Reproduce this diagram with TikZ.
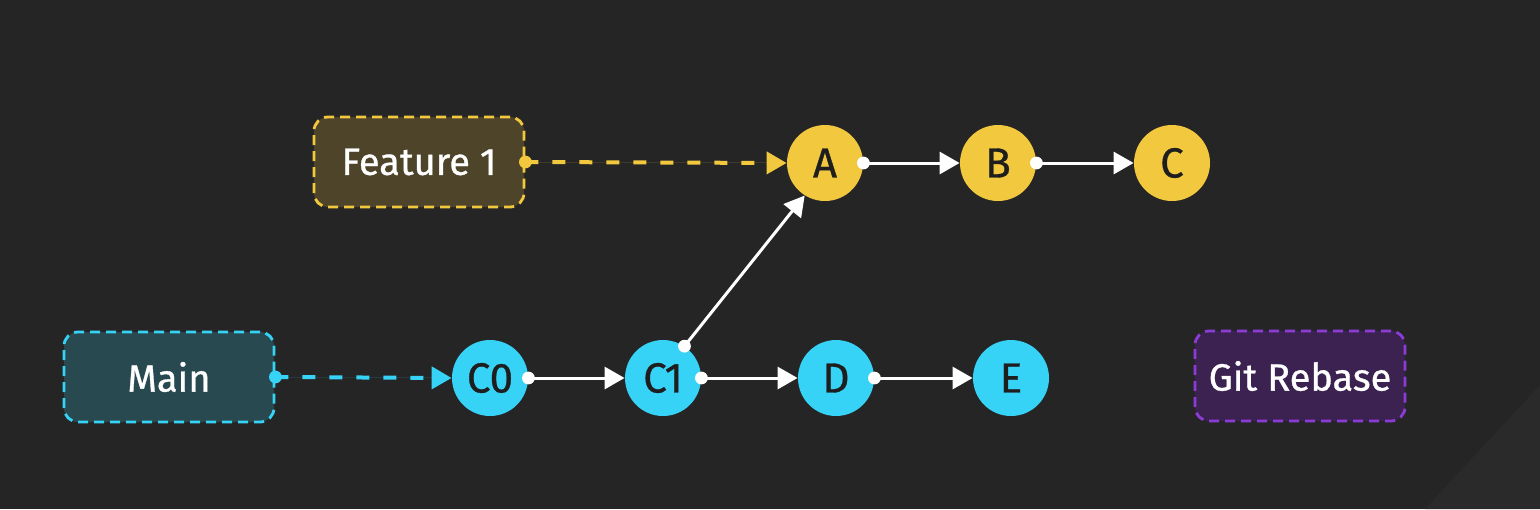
\documentclass[tikz,border=0pt]{standalone}
\usepackage{fontspec}
\setmainfont{Fira Sans}[FakeBold=0.8]
\usetikzlibrary{arrows.meta}
\definecolor{bg}{HTML}{252525}
\definecolor{bgl}{HTML}{2A2A2A}
\definecolor{ycol}{HTML}{F2C83E}
\definecolor{ccol}{HTML}{36D3F7}
\definecolor{pcol}{HTML}{8B3CD6}
\definecolor{yfill}{HTML}{4E4429}
\definecolor{cfill}{HTML}{294950}
\definecolor{pfill}{HTML}{3B2250}
\definecolor{ink}{HTML}{1E1E1E}
\begin{document}
\begin{tikzpicture}[x=0.5pt,y=-0.5pt,
  label box/.style={rounded corners=7pt, minimum width=105pt, minimum height=45pt,
    line width=1.4pt, dash pattern=on 5pt off 3pt, text=white, font=\fontsize{19}{22}\selectfont},
  commit/.style={circle, minimum size=38pt, inner sep=0pt, text=ink, font=\fontsize{21}{24}\selectfont},
  link/.style={draw=white, line width=1.5pt, -{Triangle[length=10pt,width=11pt]}},
  ptr/.style={line width=2pt, dash pattern=on 6.5pt off 7pt, -{Triangle[length=10pt,width=11pt]}}]
\fill[bg] (0,0) rectangle (1540,509);
\fill[bgl] (1540,385) -- (1540,509) -- (1425,509) -- cycle;
% boxes
\node[label box, draw=ycol, fill=yfill] (feat) at (419,162) {Feature 1};
\node[label box, draw=ccol, fill=cfill] (main) at (169,377) {Main};
\node[label box, draw=pcol, fill=pfill] (reb) at (1300,376) {Git Rebase};
% commits
\node[commit, fill=ycol] (A) at (825,163) {A};
\node[commit, fill=ycol] (B) at (998,163) {B};
\node[commit, fill=ycol] (C) at (1172,163) {C};
\node[commit, fill=ccol] (C0) at (490,378) {C0};
\node[commit, fill=ccol] (C1) at (663,378) {C1};
\node[commit, fill=ccol] (D) at (836,378) {D};
\node[commit, fill=ccol] (E) at (1011,378) {E};
% pointers
\draw[ptr, draw=ycol, fill=ycol] (feat.east) -- (A.west);
\fill[ycol] (feat.east) circle (3.2pt);
\draw[ptr, draw=ccol, fill=ccol] (main.east) -- (C0.west);
\fill[ccol] (main.east) circle (3.2pt);
% links
\draw[link, fill=white] (C0.east) -- (C1.west);
\draw[link, fill=white] (C1.east) -- (D.west);
\draw[link, fill=white] (D.east) -- (E.west);
\draw[link, fill=white] (A.east) -- (B.west);
\draw[link, fill=white] (B.east) -- (C.west);
\draw[link, fill=white] (C1.56) -- (A.238);
\foreach \n in {C0.east, C1.east, D.east, A.east, B.east, C1.56}
  \fill[white] (\n) circle (3.2pt);
\end{tikzpicture}
\end{document}
